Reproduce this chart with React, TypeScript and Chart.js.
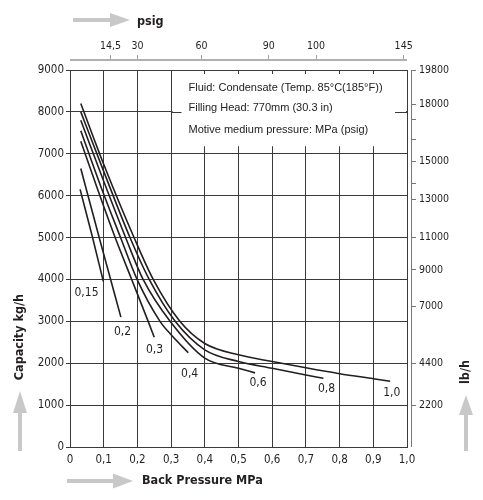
import React, { useEffect, useRef } from 'react';
import { Chart, registerables } from 'chart.js';

Chart.register(...registerables);

// ---- data ----
const curveNames = ['0,15', '0,2', '0,3', '0,4', '0,6', '0,8', '1,0'];

const c015X = [0.03, 0.066, 0.099];
const c015Y = [6150, 5030, 3950];

const c02X = [0.032, 0.09, 0.151];
const c02Y = [6650, 4900, 3100];

const c03X = [0.032, 0.085, 0.134, 0.183, 0.232, 0.25];
const c03Y = [7300, 6080, 5000, 4000, 3000, 2620];

const c04X = [0.032, 0.09, 0.15, 0.199, 0.267, 0.3, 0.351];
const c04Y = [7550, 6250, 5000, 4000, 3000, 2680, 2250];

const c06X = [0.032, 0.095, 0.165, 0.217, 0.297, 0.4, 0.5, 0.549];
const c06Y = [7800, 6450, 5000, 4000, 3000, 2120, 1880, 1770];

const c08X = [0.032, 0.1, 0.178, 0.235, 0.312, 0.4, 0.5, 0.6, 0.7, 0.752];
const c08Y = [8000, 6580, 5000, 4000, 3000, 2320, 2040, 1880, 1720, 1640];

const c10X = [0.032, 0.1, 0.19, 0.247, 0.326, 0.4, 0.5, 0.6, 0.7, 0.8, 0.9, 0.95];
const c10Y = [8200, 6750, 5000, 4000, 3000, 2470, 2200, 2040, 1890, 1750, 1630, 1570];

// curve label anchors (data coordinates)
const labelX = [0.049, 0.156, 0.251, 0.355, 0.558, 0.761, 0.955];
const labelY = [3680, 2745, 2330, 1745, 1540, 1385, 1290];

const xTicks = [0, 0.1, 0.2, 0.3, 0.4, 0.5, 0.6, 0.7, 0.8, 0.9, 1.0];
const xTickLabels = ['0', '0,1', '0,2', '0,3', '0,4', '0,5', '0,6', '0,7', '0,8', '0,9', '1,0'];

const yTicks = [0, 1000, 2000, 3000, 4000, 5000, 6000, 7000, 8000, 9000];

const psigTickPos = [0.12, 0.2, 0.39, 0.59, 0.73, 0.99];
const psigLabels = ['14,5', '30', '60', '90', '100', '145'];

const lbTickPos = [2200, 4400, 7400, 9300, 11000, 13000, 13850, 15000, 16150, 17200, 18000, 19800];
const lbLabels = ['2200', '4400', '7000', '9000', '11000', '13000', '', '15000', '', '', '18000', '19800'];

const infoLines = [
  'Fluid: Condensate (Temp. 85°C(185°F))',
  'Filling Head: 770mm (30.3 in)',
  'Motive medium pressure: MPa (psig)',
];

const seriesX = [c015X, c02X, c03X, c04X, c06X, c08X, c10X];
const seriesY = [c015Y, c02Y, c03Y, c04Y, c06Y, c08Y, c10Y];

const GRID = '#3a3a3a';
const LINE = '#231f20';
const ARROW = '#c8c8c8';
const TICKFONT = '"DejaVu Sans Condensed", "DejaVu Sans", sans-serif';

function arrow(ctx: CanvasRenderingContext2D, x0: number, y0: number, x1: number, y1: number, headLen: number, headHalf: number, shaft: number) {
  const dx = x1 - x0, dy = y1 - y0;
  const len = Math.hypot(dx, dy);
  const ux = dx / len, uy = dy / len;
  const px = -uy, py = ux;
  const bx = x1 - ux * headLen, by = y1 - uy * headLen;
  ctx.save();
  ctx.strokeStyle = ARROW;
  ctx.fillStyle = ARROW;
  ctx.lineWidth = shaft;
  ctx.beginPath();
  ctx.moveTo(x0, y0);
  ctx.lineTo(bx + ux, by + uy);
  ctx.stroke();
  ctx.beginPath();
  ctx.moveTo(x1, y1);
  ctx.lineTo(bx + px * headHalf, by + py * headHalf);
  ctx.lineTo(bx - px * headHalf, by - py * headHalf);
  ctx.closePath();
  ctx.fill();
  ctx.restore();
}

const decor = {
  id: 'decor',
  beforeDatasetsDraw(chart: any) {
    const { ctx, chartArea: ca, scales } = chart;
    const xs = scales.x, ys = scales.y;
    const bx = Math.round(xs.getPixelForValue(0.3)) + 0.5;
    const by = ys.getPixelForValue(7180);
    ctx.save();
    ctx.fillStyle = '#ffffff';
    ctx.fillRect(bx + 1, ca.top + 4, ca.right - 1 - (bx + 1), by - ca.top - 4);
    const y8 = Math.round(ys.getPixelForValue(8000)) + 0.5;
    ctx.strokeStyle = GRID;
    ctx.lineWidth = 1;
    ctx.beginPath();
    ctx.moveTo(bx, y8);
    ctx.lineTo(bx + 10, y8);
    ctx.moveTo(ca.right - 12, y8);
    ctx.lineTo(ca.right, y8);
    ctx.stroke();
    ctx.fillStyle = '#222';
    ctx.font = '11px "Liberation Sans", Arial, sans-serif';
    ctx.textAlign = 'left';
    ctx.textBaseline = 'middle';
    const tx = bx + 17;
    const lineY = [ca.top + 18, ca.top + 38, ca.top + 60];
    infoLines.forEach((t, i) => ctx.fillText(t, tx, lineY[i]));
    ctx.restore();
  },
  afterDatasetsDraw(chart: any) {
    const { ctx, scales } = chart;
    const xs = scales.x, ys = scales.y;
    ctx.save();
    ctx.fillStyle = LINE;
    ctx.font = '12px ' + TICKFONT;
    ctx.textAlign = 'center';
    ctx.textBaseline = 'middle';
    curveNames.forEach((n, i) => {
      ctx.fillText(n, xs.getPixelForValue(labelX[i]), ys.getPixelForValue(labelY[i]));
    });
    ctx.restore();
  },
  afterDraw(chart: any) {
    const { ctx, chartArea: ca } = chart;
    ctx.save();
    ctx.strokeStyle = '#b0b0b0';
    ctx.lineWidth = 2;
    ctx.beginPath();
    ctx.moveTo(ca.left, ca.top - 10);
    ctx.lineTo(ca.right, ca.top - 10);
    ctx.stroke();
    ctx.strokeStyle = '#777';
    ctx.lineWidth = 1;
    ctx.beginPath();
    ctx.moveTo(ca.right + 4.5, ca.top);
    ctx.lineTo(ca.right + 4.5, ca.bottom);
    ctx.stroke();
    ctx.restore();

    arrow(ctx, 73, 20, 130, 20, 20, 7, 4);
    arrow(ctx, 67, 481, 133, 481, 20, 7.5, 4);
    arrow(ctx, 20, 451, 20, 391, 22, 7, 4);
    arrow(ctx, 466, 451, 466, 395, 20, 7, 4);

    ctx.save();
    ctx.fillStyle = '#231f20';
    ctx.font = 'bold 12.5px ' + TICKFONT;
    ctx.textBaseline = 'middle';
    ctx.textAlign = 'left';
    ctx.fillText('psig', 137, 22);
    ctx.fillText('Back Pressure MPa', 142, 481);
    ctx.textAlign = 'center';
    ctx.save();
    ctx.translate(20, 337);
    ctx.rotate(-Math.PI / 2);
    ctx.fillText('Capacity kg/h', 0, 0);
    ctx.restore();
    ctx.save();
    ctx.translate(466, 372);
    ctx.rotate(-Math.PI / 2);
    ctx.fillText('lb/h', 0, 0);
    ctx.restore();
    ctx.restore();
  },
};

export default function App() {
  const ref = useRef<HTMLCanvasElement>(null);
  useEffect(() => {
    if (!ref.current) return;
    const datasets = curveNames.map((name, i) => ({
      label: name,
      data: seriesX[i].map((x, j) => ({ x, y: seriesY[i][j] })),
      borderColor: LINE,
      borderWidth: 1.6,
      pointRadius: 0,
      fill: false,
      cubicInterpolationMode: 'monotone' as const,
      xAxisID: 'x',
      yAxisID: 'y',
    }));
    const chart = new Chart(ref.current, {
      type: 'line',
      data: { datasets },
      plugins: [decor],
      options: {
        animation: false,
        responsive: false,
        devicePixelRatio: 1,
        layout: { padding: 0 },
        plugins: { legend: { display: false }, tooltip: { enabled: false } },
        scales: {
          x: {
            type: 'linear',
            position: 'bottom',
            min: 0,
            max: 1,
            afterBuildTicks: (s: any) => { s.ticks = xTicks.map((v) => ({ value: v })); },
            afterFit: (s: any) => { s.height = 53; },
            grid: { color: GRID, lineWidth: 1, drawTicks: false },
            border: { color: GRID, width: 1 },
            ticks: {
              autoSkip: false,
              maxRotation: 0,
              padding: 6,
              color: '#231f20',
              font: { family: TICKFONT, size: 11.5 },
              callback: (_v: any, i: number) => xTickLabels[i],
            },
          },
          x2: {
            type: 'linear',
            position: 'top',
            min: 0,
            max: 1,
            afterBuildTicks: (s: any) => { s.ticks = psigTickPos.map((v) => ({ value: v })); },
            afterFit: (s: any) => { s.height = 70; },
            grid: {
              drawOnChartArea: false,
              drawTicks: true,
              tickLength: 15,
              tickColor: '#a0a0a0',
              tickWidth: 1,
              tickBorderDash: [5, 50],
            },
            border: { display: false },
            ticks: {
              autoSkip: false,
              maxRotation: 0,
              padding: 2,
              color: '#231f20',
              font: { family: TICKFONT, size: 10.5 },
              callback: (_v: any, i: number) => psigLabels[i],
            },
          },
          y: {
            type: 'linear',
            position: 'left',
            min: 0,
            max: 9000,
            afterBuildTicks: (s: any) => { s.ticks = yTicks.map((v) => ({ value: v })); },
            afterFit: (s: any) => { s.width = 70; },
            grid: { color: GRID, lineWidth: 1, tickLength: 4 },
            border: { color: GRID, width: 1 },
            ticks: {
              autoSkip: false,
              padding: 2,
              color: '#231f20',
              font: { family: TICKFONT, size: 11.5 },
              callback: (v: any) => String(v),
            },
          },
          y2: {
            type: 'linear',
            position: 'right',
            min: 0,
            max: 19800,
            afterBuildTicks: (s: any) => { s.ticks = lbTickPos.map((v) => ({ value: v })); },
            afterFit: (s: any) => { s.width = 76; },
            grid: {
              drawOnChartArea: false,
              drawTicks: true,
              tickLength: 9,
              tickColor: '#777',
              tickWidth: 1,
              tickBorderDash: [0, 4, 5, 50],
            },
            border: { display: false },
            ticks: {
              autoSkip: false,
              padding: 3,
              color: '#231f20',
              font: { family: TICKFONT, size: 10.5 },
              callback: (_v: any, i: number) => lbLabels[i],
            },
          },
        },
      },
    });
    return () => chart.destroy();
  }, []);
  return (
    <div style={{ position: 'fixed', left: 0, top: 0, width: 483, height: 500, background: '#fff' }}>
      <canvas ref={ref} width={483} height={500} style={{ display: 'block', width: 483, height: 500 }} />
    </div>
  );
}
